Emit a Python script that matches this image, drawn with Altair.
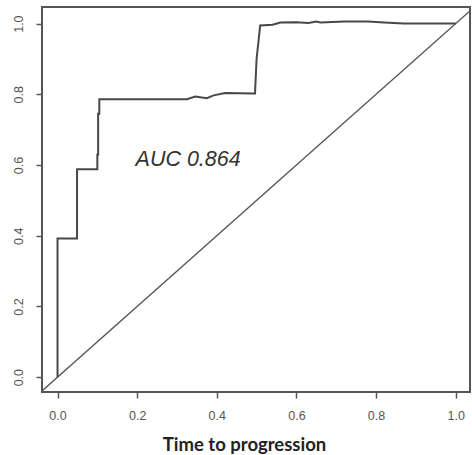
import altair as alt
import pandas as pd

# ROC curve points (false positive rate, true positive rate)
roc_fpr = [0.0, 0.0, 0.049, 0.049, 0.100, 0.100, 0.102, 0.102, 0.105, 0.105,
           0.325, 0.346, 0.375, 0.392, 0.421, 0.492, 0.496, 0.500, 0.509,
           0.540, 0.560, 0.600, 0.630, 0.650, 0.660, 0.720, 0.780, 0.820,
           0.870, 0.990, 1.0]
roc_tpr = [0.0, 0.392, 0.392, 0.588, 0.588, 0.629, 0.629, 0.745, 0.745, 0.786,
           0.786, 0.794, 0.789, 0.797, 0.804, 0.802, 0.802, 0.900, 0.995,
           0.997, 1.003, 1.004, 1.002, 1.006, 1.003, 1.006, 1.006, 1.003,
           1.000, 1.000, 1.000]

diag_vals = [-0.039, 1.047]
tick_vals = [0.0, 0.2, 0.4, 0.6, 0.8, 1.0]
auc_label = ["AUC 0.864"]
auc_pos = [0.328, 0.613]

x_dom = [-0.039, 1.036]
y_dom = [-0.042, 1.047]

roc_df = pd.DataFrame({"fpr": roc_fpr, "tpr": roc_tpr, "order": list(range(len(roc_fpr)))})
diag_df = pd.DataFrame({"fpr": diag_vals, "tpr": diag_vals})
txt_df = pd.DataFrame({"fpr": [auc_pos[0]], "tpr": [auc_pos[1]], "label": auc_label})

xs = alt.Scale(domain=x_dom, nice=False, zero=False)
ys = alt.Scale(domain=y_dom, nice=False, zero=False)

x_axis = alt.Axis(values=tick_vals, format=".1f", domain=False, grid=False,
                  tickSize=6, tickColor="#555555", tickWidth=1.5,
                  labelColor="#555555", labelFont="Liberation Sans", labelFontSize=12.5,
                  labelPadding=11, title="Time to progression",
                  titleFont="Lato", titleFontSize=18.5, titleFontWeight="bold",
                  titleColor="#222222", titlePadding=14, titleX=202, titleAnchor="middle")
y_axis = alt.Axis(values=tick_vals, format=".1f", domain=False, grid=False,
                  tickSize=6, tickColor="#555555", tickWidth=1.5,
                  labelColor="#555555", labelFont="Liberation Sans", labelFontSize=12.5,
                  labelAngle=270, labelAlign="center", labelBaseline="bottom",
                  labelPadding=11, title=None)

diag = alt.Chart(diag_df).mark_line(color="#555555", strokeWidth=1.3, clip=True).encode(
    x=alt.X("fpr:Q", scale=xs, axis=x_axis),
    y=alt.Y("tpr:Q", scale=ys, axis=y_axis),
)

roc = alt.Chart(roc_df).mark_line(color="#484848", strokeWidth=2, clip=True).encode(
    x=alt.X("fpr:Q", scale=xs),
    y=alt.Y("tpr:Q", scale=ys),
    order="order:Q",
)

txt = alt.Chart(txt_df).mark_text(font="Liberation Sans", fontSize=21.5, fontStyle="italic",
                                  color="#333333", align="center", baseline="middle").encode(
    x=alt.X("fpr:Q", scale=xs),
    y=alt.Y("tpr:Q", scale=ys),
    text="label:N",
)

chart = alt.layer(diag, roc, txt).properties(
    width=428, height=385,
    autosize=alt.AutoSizeParams(type="none"),
    padding={"left": 42, "top": 7, "right": 2, "bottom": 63},
    background="white",
).configure_view(stroke="#555555", strokeWidth=2)

chart.save("out.html", embed_options={"renderer": "svg", "actions": False})
